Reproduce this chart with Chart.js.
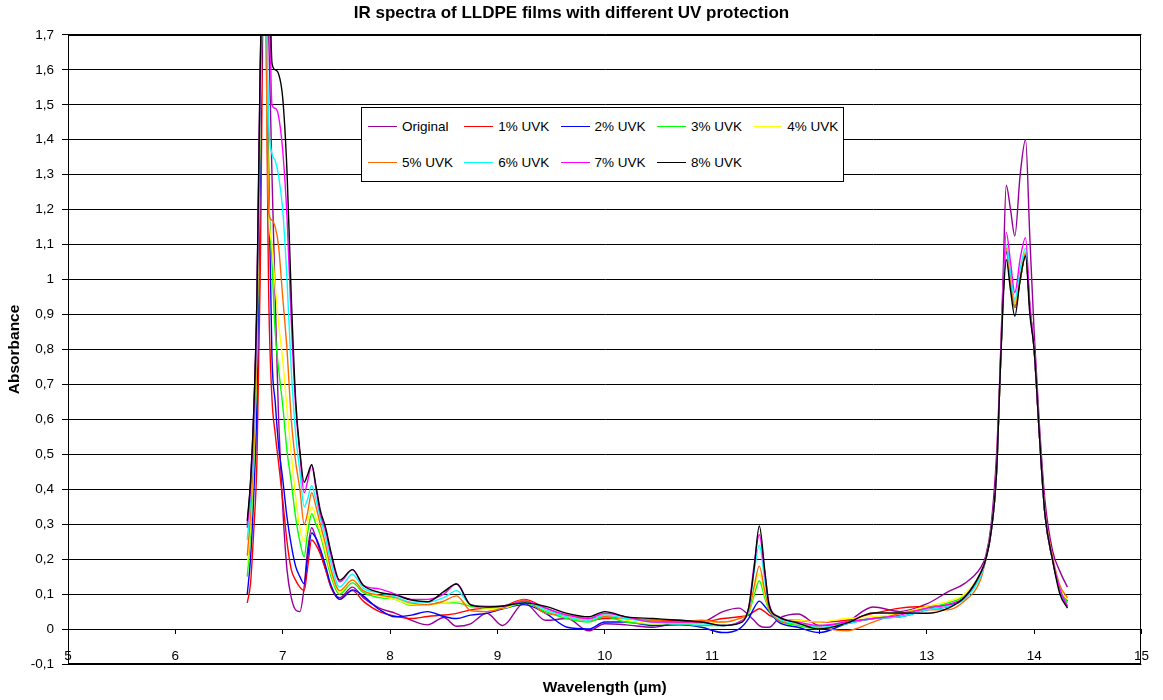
<!DOCTYPE html>
<html>
<head>
<meta charset="utf-8">
<title>IR spectra of LLDPE films</title>
<script src="https://cdn.jsdelivr.net/npm/chart.js@4.4.1/dist/chart.umd.min.js"></script>
<style>
  html, body { margin: 0; padding: 0; background: #fff; }
  #wrap { position: relative; width: 1163px; height: 700px; }
  #legend {
    position: absolute; left: 361px; top: 107px; width: 481px; height: 73px;
    border: 1px solid #000; background: #fff;
    font: 13.5px "Liberation Sans", Arial, sans-serif; color: #000;
  }
  .item { position: absolute; display: flex; align-items: center; height: 16px; white-space: nowrap; }
  .swatch { width: 29px; height: 0; border-top: 1.5px solid; margin-right: 5px; }
</style>
</head>
<body>
<div id="wrap">
  <canvas id="chartIR" width="1163" height="700"></canvas>
  <div id="legend"></div>
</div>
<script>
(function () {
  // wavelength grid (µm) shared by all spectra
  var wavelength = [
    6.67, 6.70, 6.73, 6.76, 6.79, 6.83, 6.87, 6.90, 6.93, 6.96, 7.00, 7.04, 7.08, 7.12, 7.16, 7.20, 7.23, 7.27,
    7.31, 7.35, 7.40, 7.45, 7.53, 7.65, 7.75, 7.90, 8.05, 8.20, 8.35, 8.50, 8.62, 8.75, 8.90, 9.05, 9.25,
    9.45, 9.65, 9.85, 10.00, 10.20, 10.45, 10.70, 10.90, 11.10, 11.25, 11.34, 11.39, 11.44, 11.49, 11.53,
    11.62, 11.80, 12.00, 12.25, 12.50, 12.75, 13.00, 13.20, 13.35, 13.50,
    13.55, 13.60, 13.65, 13.68, 13.71, 13.74, 13.78, 13.82, 13.87, 13.92, 13.96, 14.00, 14.05, 14.10, 14.17, 14.24, 14.31
  ];

  var original = [
    0.30, 0.42, 0.62, 0.95, 1.6, 2.0, 1.7, 1.3, 0.95, 0.62, 0.35, 0.17, 0.09, 0.055, 0.05, 0.12, 0.22, 0.29,
    0.26, 0.22, 0.17, 0.12, 0.09, 0.12, 0.09, 0.06, 0.045, 0.025, 0.012, 0.033, 0.008, 0.015, 0.045, 0.01, 0.075,
    0.025, 0.03, -0.005, 0.015, 0.012, 0.005, 0.02, 0.02, 0.05, 0.06, 0.04, 0.025, 0.01, 0.005, 0.005,
    0.03, 0.043, 0.01, 0.02, 0.063, 0.05, 0.072, 0.107, 0.13, 0.175,
    0.21, 0.30, 0.50, 0.72, 1.0, 1.27, 1.2, 1.125, 1.3, 1.40, 1.12, 0.85, 0.58, 0.37, 0.226, 0.165, 0.12
  ];
  var uvk1 = [
    0.075, 0.13, 0.28, 0.48, 1.0, 2.0, 0.95, 0.66, 0.56, 0.48, 0.37, 0.25, 0.17, 0.14, 0.12, 0.11, 0.17, 0.255,
    0.24, 0.215, 0.17, 0.12, 0.085, 0.11, 0.08, 0.05, 0.037, 0.03, 0.036, 0.04, 0.045, 0.055, 0.06, 0.065, 0.085,
    0.06, 0.035, 0.025, 0.03, 0.03, 0.025, 0.025, 0.02, 0.03, 0.035, 0.04, 0.05, 0.058, 0.05, 0.04,
    0.03, 0.025, 0.02, 0.025, 0.045, 0.06, 0.065, 0.07, 0.09, 0.155,
    0.2, 0.28, 0.45, 0.7, 0.95, 1.08, 1.0, 0.93, 1.0, 1.07, 0.92, 0.8, 0.55, 0.33, 0.2, 0.115, 0.08
  ];
  var uvk2 = [
    0.10, 0.20, 0.38, 0.65, 1.3, 2.0, 1.3, 0.78, 0.65, 0.53, 0.43, 0.32, 0.24, 0.18, 0.15, 0.13, 0.2, 0.275,
    0.26, 0.23, 0.18, 0.125, 0.085, 0.112, 0.095, 0.056, 0.035, 0.04, 0.05, 0.036, 0.03, 0.04, 0.045, 0.058, 0.07,
    0.045, 0.005, 0.0, 0.02, 0.02, 0.01, 0.012, 0.005, -0.01, 0.0, 0.03, 0.06, 0.08, 0.065, 0.05,
    0.02, 0.005, -0.01, 0.015, 0.03, 0.035, 0.055, 0.065, 0.09, 0.155,
    0.2, 0.28, 0.45, 0.7, 0.95, 1.08, 1.0, 0.92, 1.0, 1.07, 0.92, 0.8, 0.55, 0.33, 0.2, 0.11, 0.065
  ];
  var uvk3 = [
    0.15, 0.27, 0.47, 0.8, 1.45, 2.0, 1.25, 1.05, 0.85, 0.75, 0.64, 0.51, 0.42, 0.32, 0.25, 0.207, 0.27, 0.33,
    0.30, 0.27, 0.21, 0.15, 0.10, 0.132, 0.105, 0.09, 0.085, 0.068, 0.07, 0.075, 0.075, 0.065, 0.06, 0.06, 0.075,
    0.05, 0.03, 0.02, 0.035, 0.02, 0.015, 0.015, 0.01, 0.01, 0.02, 0.045, 0.095, 0.138, 0.09, 0.055,
    0.025, 0.01, 0.0, 0.02, 0.03, 0.045, 0.06, 0.075, 0.095, 0.155,
    0.2, 0.28, 0.45, 0.7, 0.95, 1.09, 1.0, 0.93, 1.0, 1.08, 0.92, 0.8, 0.55, 0.33, 0.2, 0.115, 0.075
  ];
  var uvk4 = [
    0.18, 0.30, 0.50, 0.82, 1.45, 2.0, 1.2, 1.1, 0.98, 0.88, 0.77, 0.63, 0.5, 0.38, 0.29, 0.25, 0.3, 0.35,
    0.32, 0.28, 0.22, 0.16, 0.105, 0.142, 0.11, 0.095, 0.085, 0.07, 0.07, 0.075, 0.08, 0.07, 0.06, 0.06, 0.08,
    0.055, 0.035, 0.025, 0.04, 0.025, 0.015, 0.02, 0.02, 0.02, 0.03, 0.05, 0.11, 0.16, 0.1, 0.06,
    0.03, 0.025, 0.02, 0.03, 0.035, 0.045, 0.065, 0.08, 0.1, 0.16,
    0.2, 0.28, 0.45, 0.7, 0.95, 1.1, 1.0, 0.93, 1.0, 1.08, 0.92, 0.8, 0.55, 0.33, 0.2, 0.115, 0.085
  ];
  var uvk5 = [
    0.21, 0.33, 0.52, 0.85, 1.5, 2.0, 1.19, 1.17, 1.15, 1.1, 0.95, 0.8, 0.6, 0.48, 0.4, 0.30, 0.33, 0.39,
    0.35, 0.30, 0.24, 0.17, 0.11, 0.14, 0.11, 0.097, 0.09, 0.074, 0.07, 0.08, 0.095, 0.053, 0.05, 0.06, 0.083,
    0.045, 0.04, 0.03, 0.035, 0.03, 0.025, 0.02, 0.025, 0.02, 0.03, 0.05, 0.12, 0.18, 0.11, 0.06,
    0.025, 0.015, 0.005, -0.005, 0.02, 0.045, 0.055, 0.055, 0.08, 0.14,
    0.2, 0.28, 0.45, 0.7, 0.95, 1.09, 1.0, 0.92, 1.0, 1.075, 0.92, 0.8, 0.55, 0.34, 0.21, 0.125, 0.09
  ];
  var uvk6 = [
    0.255, 0.37, 0.57, 0.9, 1.5, 2.0, 1.45, 1.36, 1.34, 1.3, 1.2, 1.0, 0.74, 0.56, 0.45, 0.35, 0.37, 0.41,
    0.37, 0.32, 0.26, 0.19, 0.12, 0.157, 0.117, 0.104, 0.092, 0.077, 0.077, 0.09, 0.11, 0.07, 0.065, 0.066, 0.078,
    0.055, 0.035, 0.025, 0.04, 0.03, 0.02, 0.015, 0.015, 0.01, 0.02, 0.055, 0.16, 0.24, 0.14, 0.07,
    0.03, 0.015, 0.005, 0.015, 0.03, 0.035, 0.055, 0.065, 0.085, 0.15,
    0.2, 0.28, 0.45, 0.7, 0.95, 1.10, 1.02, 0.943, 1.03, 1.09, 0.92, 0.8, 0.55, 0.33, 0.2, 0.115, 0.065
  ];
  var uvk7 = [
    0.29, 0.40, 0.60, 0.93, 1.55, 2.0, 1.9, 1.5, 1.49, 1.47, 1.37, 1.18, 0.88, 0.64, 0.5, 0.39, 0.42, 0.47,
    0.40, 0.33, 0.28, 0.21, 0.135, 0.17, 0.125, 0.115, 0.1, 0.085, 0.085, 0.10, 0.13, 0.07, 0.065, 0.065, 0.08,
    0.06, 0.04, 0.03, 0.045, 0.035, 0.02, 0.02, 0.02, 0.01, 0.02, 0.06, 0.18, 0.27, 0.16, 0.075,
    0.035, 0.02, 0.01, 0.02, 0.03, 0.04, 0.06, 0.07, 0.09, 0.16,
    0.2, 0.28, 0.46, 0.71, 0.97, 1.135, 1.05, 0.963, 1.06, 1.12, 0.93, 0.8, 0.55, 0.33, 0.2, 0.115, 0.065
  ];
  var uvk8 = [
    0.31, 0.42, 0.62, 0.95, 1.6, 2.0, 1.95, 1.62, 1.6, 1.59, 1.52, 1.31, 0.95, 0.66, 0.51, 0.42, 0.44, 0.47,
    0.41, 0.34, 0.29, 0.22, 0.14, 0.17, 0.125, 0.105, 0.097, 0.083, 0.078, 0.107, 0.129, 0.069, 0.063, 0.066, 0.075,
    0.065, 0.045, 0.035, 0.05, 0.035, 0.03, 0.025, 0.02, 0.01, 0.016, 0.06, 0.17, 0.295, 0.17, 0.07,
    0.035, 0.017, 0.0, 0.017, 0.046, 0.046, 0.045, 0.06, 0.09, 0.16,
    0.2, 0.28, 0.45, 0.7, 0.93, 1.057, 0.97, 0.895, 1.0, 1.067, 0.9, 0.8, 0.55, 0.33, 0.2, 0.1, 0.06
  ];

  var seriesNames = ['Original', '1% UVK', '2% UVK', '3% UVK', '4% UVK', '5% UVK', '6% UVK', '7% UVK', '8% UVK'];
  var seriesColors = ['#990099', '#FF0000', '#0000FF', '#00FF00', '#FFFF00', '#FF6600', '#00FFFF', '#FF00FF', '#000000'];
  var seriesValues = [original, uvk1, uvk2, uvk3, uvk4, uvk5, uvk6, uvk7, uvk8];

  var yTicksMin = -0.1;
  var yTicksMax = 1.7;
  var xTicksMin = 5;
  var xTicksMax = 15;

  Chart.defaults.font.family = '"Liberation Sans", Arial, sans-serif';
  Chart.defaults.color = '#000';

  function commaNumber(v) {
    var r = Math.round(v * 10) / 10;
    return String(r).replace('.', ',');
  }

  var datasets = seriesValues.map(function (vals, i) {
    return {
      label: seriesNames[i],
      data: vals.map(function (v, j) { return { x: wavelength[j], y: v }; }),
      borderColor: seriesColors[i],
      backgroundColor: seriesColors[i],
      borderWidth: 1.4,
      pointRadius: 0,
      fill: false,
      cubicInterpolationMode: 'monotone',
      xAxisID: 'x',
      yAxisID: 'y',
      // later series sit on top
      order: seriesValues.length - i
    };
  });

  // black frame round the plot area
  var plotFrame = {
    id: 'plotFrame',
    afterDatasetsDraw: function (chart) {
      var a = chart.chartArea;
      var c = chart.ctx;
      c.save();
      c.strokeStyle = '#000';
      c.lineWidth = 1;
      c.strokeRect(Math.round(a.left) + 0.5, Math.round(a.top) + 0.5,
        Math.round(a.right - a.left) - 1, Math.round(a.bottom - a.top) - 1);
      c.restore();
    }
  };

  var chart = new Chart(document.getElementById('chartIR'), {
    type: 'line',
    data: { datasets: datasets },
    plugins: [plotFrame],
    options: {
      responsive: false,
      animation: false,
      layout: { padding: { left: 0, right: 20, top: 0, bottom: 0 } },
      plugins: {
        legend: { display: false },
        tooltip: { enabled: false },
        title: {
          display: true,
          text: 'IR spectra of LLDPE films with different UV protection',
          font: { size: 17, weight: 'bold' },
          color: '#000',
          padding: { top: 3, bottom: 11.5 }
        }
      },
      scales: {
        // bottom axis carries only the title
        x: {
          type: 'linear',
          position: 'bottom',
          min: xTicksMin,
          max: xTicksMax,
          ticks: { stepSize: 1, display: false },
          grid: { display: false, drawTicks: false },
          border: { display: false },
          title: {
            display: true,
            text: 'Wavelength (µm)',
            font: { size: 15.5, weight: 'bold' },
            color: '#000',
            padding: { top: 0, bottom: 3 }
          },
          afterFit: function (s) { s.height = 36; }
        },
        // ticks and labels hang from the zero line
        x0: {
          type: 'linear',
          position: { y: 0 },
          min: xTicksMin,
          max: xTicksMax,
          ticks: { stepSize: 1, display: true, padding: 14, font: { size: 13.5 }, color: '#000', maxRotation: 0 },
          grid: { drawOnChartArea: false, drawTicks: true, tickLength: 5, color: '#000' },
          border: { display: false }
        },
        y: {
          type: 'linear',
          min: yTicksMin,
          max: yTicksMax,
          ticks: {
            stepSize: 0.1,
            padding: 8,
            font: { size: 13.5 },
            color: '#000',
            autoSkip: false,
            callback: function (v) { return commaNumber(v); }
          },
          grid: { color: '#000', lineWidth: 1, tickLength: 6 },
          border: { color: '#000' },
          title: {
            display: true,
            text: 'Absorbance',
            font: { size: 15.5, weight: 'bold' },
            color: '#000',
            padding: { top: 5, bottom: 0 }
          },
          afterFit: function (s) { s.width = 68; }
        }
      }
    }
  });

  // legend box, five columns by two rows
  var legend = document.getElementById('legend');
  chart.data.datasets.forEach(function (ds, i) {
    var item = document.createElement('div');
    item.className = 'item';
    item.style.left = (6 + 96.3 * (i % 5)) + 'px';
    item.style.top = (i < 5 ? 10 : 46) + 'px';
    var sw = document.createElement('span');
    sw.className = 'swatch';
    sw.style.borderTopColor = ds.borderColor;
    var txt = document.createElement('span');
    txt.textContent = ds.label;
    item.appendChild(sw);
    item.appendChild(txt);
    legend.appendChild(item);
  });
})();
</script>
</body>
</html>
